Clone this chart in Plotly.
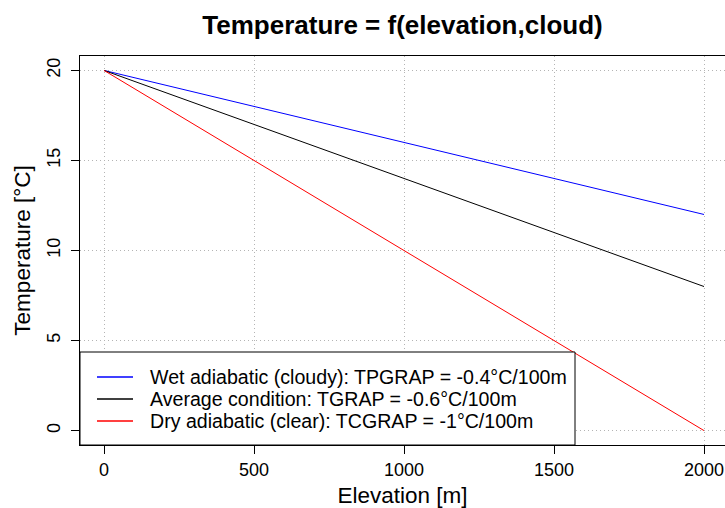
import plotly.graph_objects as go

# Elevation (m) and temperature (°C) for three lapse-rate scenarios
elevation = [0, 500, 1000, 1500, 2000]
temp_wet = [20, 18, 16, 14, 12]        # -0.4 °C / 100 m
temp_average = [20, 17, 14, 11, 8]     # -0.6 °C / 100 m
temp_dry = [20, 15, 10, 5, 0]          # -1 °C / 100 m

series_names = [
    "Wet adiabatic (cloudy): TPGRAP = -0.4°C/100m",
    "Average condition: TGRAP = -0.6°C/100m",
    "Dry adiabatic (clear): TCGRAP = -1°C/100m",
]
series_colors = ["blue", "black", "red"]
series_values = [temp_wet, temp_average, temp_dry]

x_ticks = [0, 500, 1000, 1500, 2000]
y_ticks = [0, 5, 10, 15, 20]

FONT = "Liberation Sans, Arial, sans-serif"

fig = go.Figure()
for name, color, values in zip(series_names, series_colors, series_values):
    fig.add_trace(go.Scatter(
        x=elevation, y=values, mode="lines", name=name,
        line=dict(color=color, width=1), showlegend=False,
    ))

# Legend drawn as a boxed key in the lower-left corner of the plot area
W, H = 725, 508
ml, mr, mt, mb = 80, 0, 56, 63
pw, ph = W - ml - mr, H - mt - mb


def px_x(p):
    return (p - ml) / pw


def px_y(p):
    return (H - mb - p) / ph


shapes = [dict(
    type="rect", xref="paper", yref="paper",
    x0=px_x(80), x1=px_x(575), y0=0, y1=px_y(352),
    fillcolor="white", line=dict(color="black", width=1), layer="above",
)]
annotations = []
row_y = [377, 399, 421]
for name, color, yy in zip(series_names, series_colors, row_y):
    shapes.append(dict(
        type="line", xref="paper", yref="paper",
        x0=px_x(97), x1=px_x(133), y0=px_y(yy), y1=px_y(yy),
        line=dict(color=color, width=1.3), layer="above",
    ))
    annotations.append(dict(
        xref="paper", yref="paper", x=px_x(148), y=px_y(yy),
        xanchor="left", yanchor="middle", text=name, showarrow=False,
        font=dict(family=FONT, size=19.6, color="black"),
    ))

fig.update_layout(
    width=W, height=H,
    margin=dict(l=ml, r=mr, t=mt, b=mb, pad=0),
    paper_bgcolor="white", plot_bgcolor="white",
    font=dict(family=FONT, color="black"),
    title=dict(
        text="<b>Temperature = f(elevation,cloud)</b>",
        font=dict(family=FONT, size=26, color="black"),
        x=0.5, xref="paper", xanchor="center",
        y=1 - 25 / H, yref="container", yanchor="middle",
    ),
    xaxis=dict(
        range=[-80, 2070], tickvals=x_ticks, ticks="outside", ticklen=8,
        tickcolor="black", tickfont=dict(size=18),
        showline=True, linecolor="black", linewidth=1, mirror=True,
        showgrid=True, gridcolor="#b4b4b4", gridwidth=1, griddash="1px,3px",
        zeroline=False,
        title=dict(text="Elevation [m]", font=dict(size=22.5), standoff=11),
    ),
    yaxis=dict(
        range=[-0.8, 20.8], tickvals=y_ticks, ticks="outside", ticklen=8,
        tickcolor="black", tickfont=dict(size=18), tickangle=-90,
        ticklabelstandoff=4,
        showline=True, linecolor="black", linewidth=1, mirror=False,
        showgrid=True, gridcolor="#b4b4b4", gridwidth=1, griddash="1px,3px",
        zeroline=False,
        title=dict(text="Temperature [°C]", font=dict(size=22.5), standoff=6),
    ),
    shapes=shapes,
    annotations=annotations,
    showlegend=False,
)

fig.write_html("out.html")
